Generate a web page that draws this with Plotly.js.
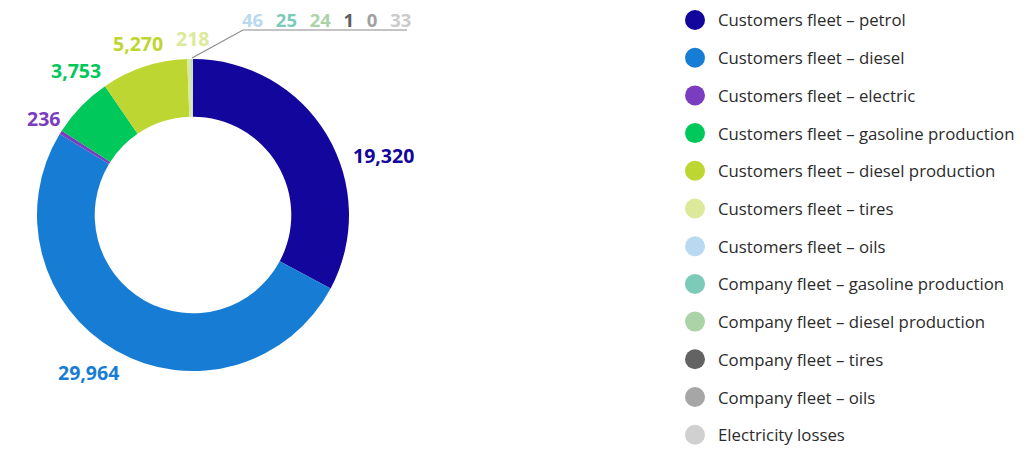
<!DOCTYPE html>
<html>
<head>
<meta charset="utf-8">
<script src="https://cdn.plot.ly/plotly-3.0.1.min.js"></script>
<style>html,body{margin:0;padding:0;background:#fff;}#chart{width:1033px;height:450px;}</style>
</head>
<body>
<div id="chart"></div>
<script>
const categories = [
  "Customers fleet – petrol",
  "Customers fleet – diesel",
  "Customers fleet – electric",
  "Customers fleet – gasoline production",
  "Customers fleet – diesel production",
  "Customers fleet – tires",
  "Customers fleet – oils",
  "Company fleet – gasoline production",
  "Company fleet – diesel production",
  "Company fleet – tires",
  "Company fleet – oils",
  "Electricity losses"
];
const values = [19320, 29964, 236, 3753, 5270, 218, 46, 25, 24, 1, 0, 33];
const colors = ["#12069c", "#177dd4", "#7a3dbf", "#00c85a", "#bed631", "#dce99b",
                "#b9d9f1", "#7ccbb9", "#acd3a8", "#636363", "#a6a6a6", "#d0d0d0"];

// label layout (angle nudge in degrees, radius in px) for the large slices
const bigLabelCount = 6;
const labelNudge = [13.5, 4, 1, 7, 0.5, 1.2];
const labelRadius = [200, 189, 178, 186, 180, 177];

const W = 1033, H = 450;
const cx = 193, cy = 215, R = 156;
const fx = px => px / W;
const fy = py => 1 - py / H;
const fmt = v => v.toLocaleString('en-US');

const total = values.reduce((a, b) => a + b, 0);
let cum = 0;
const mids = values.map(v => { const m = (cum + v / 2) / total * 360; cum += v; return m; });

const annotations = [];
for (let i = 0; i < bigLabelCount; i++) {
  const th = (mids[i] + labelNudge[i]) * Math.PI / 180;
  const r = labelRadius[i];
  annotations.push({
    x: fx(cx + r * Math.sin(th)), y: fy(cy - r * Math.cos(th)),
    xref: 'paper', yref: 'paper', xanchor: 'center', yanchor: 'middle',
    text: fmt(values[i]), showarrow: false,
    font: {family: 'Open Sans', size: 19.5, color: colors[i], weight: 700}
  });
}
// row of small-slice labels
const smallIdx = values.map((v, i) => i).filter(i => i >= bigLabelCount);
const rowColors = ["#b9d9f1", "#7ccbb9", "#acd3a8", "#5e5e5e", "#a0a0a0", "#cbcbcb"];
const gap = '&nbsp;&nbsp;\u2006';
const rowText = smallIdx.map((i, k) => `<span style="color:${rowColors[k]}">${fmt(values[i])}</span>`).join(gap);
annotations.push({
  x: fx(240), y: fy(20), xref: 'paper', yref: 'paper', xanchor: 'left', yanchor: 'middle',
  text: rowText, showarrow: false,
  font: {family: 'Open Sans', size: 18.5, color: '#999', weight: 700}
});

// leader line from small slices
const smallMid = (mids[smallIdx[0]] + mids[smallIdx[smallIdx.length - 1]]) / 2 * Math.PI / 180;
const sx = cx + (R + 1) * Math.sin(smallMid), sy = cy - (R + 1) * Math.cos(smallMid);
const shapes = [{
  type: 'path', xref: 'paper', yref: 'paper',
  path: `M ${fx(sx)} ${fy(sy)} L ${fx(243)} ${fy(30)} L ${fx(407)} ${fy(30)}`,
  line: {color: '#8a8a8a', width: 1.2}
}];

// custom legend
const legX = 695, legTextX = 716, legY0 = 20, legStep = 37.7, dotR = 10;
categories.forEach((c, i) => {
  const y = legY0 + i * legStep;
  shapes.push({
    type: 'circle', xref: 'paper', yref: 'paper',
    x0: fx(legX - dotR), x1: fx(legX + dotR), y0: fy(y + dotR), y1: fy(y - dotR),
    fillcolor: colors[i], line: {width: 0}
  });
  annotations.push({
    x: fx(legTextX), y: fy(y), xref: 'paper', yref: 'paper', xanchor: 'left', yanchor: 'middle',
    text: c, showarrow: false,
    font: {family: 'Open Sans', size: 16.8, color: '#2b2b2b'}
  });
});

const trace = {
  type: 'pie', labels: categories, values: values, sort: false, direction: 'clockwise', rotation: 0,
  hole: 0.63, textinfo: 'none', hoverinfo: 'label+value', showlegend: false,
  marker: {colors: colors, line: {width: 0}},
  domain: {x: [fx(cx - R), fx(cx + R)], y: [fy(cy + R), fy(cy - R)]}
};

Plotly.newPlot('chart', [trace], {
  width: W, height: H, margin: {l: 0, r: 0, t: 0, b: 0},
  paper_bgcolor: '#fff', plot_bgcolor: '#fff', showlegend: false,
  annotations: annotations, shapes: shapes
}, {displayModeBar: false, staticPlot: true});
</script>
</body>
</html>
